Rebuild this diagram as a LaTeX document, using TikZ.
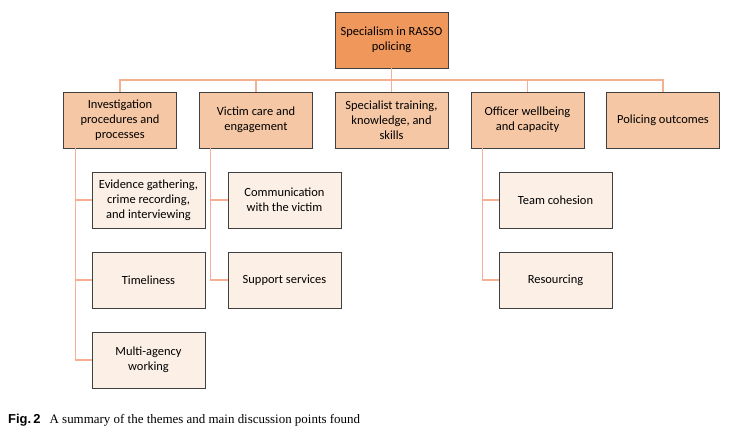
\documentclass[tikz,border=0pt]{standalone}
\usepackage{fontspec}
\setmainfont{Carlito}
\newfontfamily\capsans{Liberation Sans}
\newfontfamily\capserif{Liberation Serif}
\usetikzlibrary{positioning}
\definecolor{rootfill}{HTML}{F0975C}
\definecolor{themefill}{HTML}{F6C7A4}
\definecolor{subfill}{HTML}{FBEFE6}
\definecolor{linkcol}{HTML}{F4B090}
\definecolor{boxline}{HTML}{404040}

\begin{document}
\begin{tikzpicture}[x=1bp, y=-1bp,
  box/.style={draw=boxline, line width=0.8bp, minimum width=113bp, minimum height=56bp,
    align=center, inner sep=2bp, font=\fontsize{12.5}{15}\selectfont},
  rootbox/.style={box, fill=rootfill},
  themebox/.style={box, fill=themefill},
  subbox/.style={box, fill=subfill},
  link/.style={draw=linkcol, line width=1.1bp},]
\useasboundingbox (0,0) rectangle (743,438);
\node[rootbox] (0) at (391.5, 40)  {Specialism in RASSO\\policing};
\node[themebox] (1) at (120, 120)  {Investigation\\procedures and\\processes};
\node[themebox] (2) at (256, 120)  {Victim care and\\engagement};
\node[themebox] (3) at (391.5, 120)  {Specialist training,\\knowledge, and\\skills};
\node[themebox] (4) at (527.5, 120)  {Officer wellbeing\\and capacity};
\node[themebox] (5) at (663, 120)  {Policing outcomes};
\node[subbox] (11) at (148.5, 200)  {Evidence gathering,\\crime recording,\\and interviewing};
\node[subbox] (12) at (148.5, 280)  {Timeliness};
\node[subbox] (13) at (148.5, 360)  {Multi-agency\\working};
\node[subbox] (21) at (284.5, 200)  {Communication\\with the victim};
\node[subbox] (22) at (284.5, 280)  {Support services};
\node[subbox] (41) at (555.5, 200)  {Team cohesion};
\node[subbox] (42) at (555.5, 280)  {Resourcing};
\coordinate (bus) at (391.5, 80);
% tree lines
 \draw[link] (0.south)--(3.north);
 \draw[link] (1.north) |- (bus) -| (5.north);
 \draw[link] (2.north) |- (bus);
 \draw[link] (4.north) |- (bus);
 \draw[link] ([xshift=12.5bp]1.south west) |- (11.west);
 \draw[link] ([xshift=12.5bp]1.south west) |- (12.west);
 \draw[link] ([xshift=12.5bp]1.south west) |- (13.west);
 \draw[link] ([xshift=11bp]2.south west) |- (21.west);
 \draw[link] ([xshift=11bp]2.south west) |- (22.west);
 \draw[link] ([xshift=12bp]4.south west) |- (41.west);
 \draw[link] ([xshift=12bp]4.south west) |- (42.west);
\node[anchor=west, inner sep=0pt, font=\fontsize{13}{15}\selectfont] (cap) at (8, 420)
  {{\capsans\bfseries Fig.\,2}\hspace{0.7em}\capserif A summary of the themes and main discussion points found};
\end{tikzpicture}
\end{document}
